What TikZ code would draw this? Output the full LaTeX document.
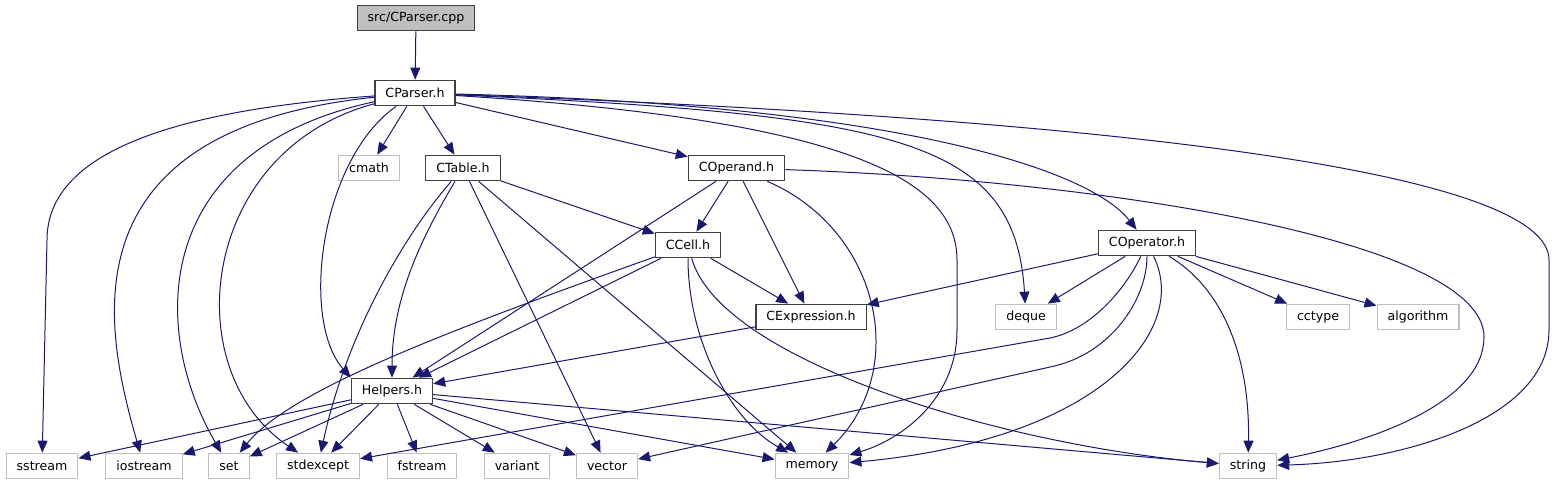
\documentclass[tikz,border=0pt]{standalone}
\usepackage{fontspec}
\setmainfont{DejaVu Sans}
\usetikzlibrary{arrows.meta}
\definecolor{edgeblue}{HTML}{191970}
\definecolor{sysgray}{HTML}{BFBFBF}
\definecolor{boxgray}{HTML}{404040}

\begin{document}
\begin{tikzpicture}[x=1pt,y=-1pt,line width=1pt,>={Triangle[length=12pt,width=10pt]},
  every node/.style={font=\fontsize{12.6}{14}\selectfont,minimum height=25.5pt,inner xsep=10.5pt,inner ysep=0pt},
  hdr/.style={draw=boxgray,fill=white,line width=1.2pt},
  sys/.style={draw=sysgray,fill=white,line width=1.2pt},
  src/.style={draw=boxgray,fill=sysgray,line width=1.2pt},
  dep/.style={->,draw=edgeblue,line width=1pt}]
\useasboundingbox (0,0) rectangle (1555,485);
% ---------- project headers ----------
\node[src] (cpp) at (416,18) {src/CParser.cpp};
\node[hdr] (parser) at (415,93) {CParser.h};
\node[sys] (cmath) at (369,168) {cmath};
\node[hdr] (table) at (463,168) {CTable.h};
\node[hdr] (operand) at (736.5,168) {COperand.h};
\node[hdr] (cell) at (688,245) {CCell.h};
\node[hdr] (operator) at (1147,243) {COperator.h};
\node[hdr] (expr) at (811,317) {CExpression.h};
\node[sys] (deque) at (1026,317) {deque};
\node[sys] (cctype) at (1318,317) {cctype};
\node[sys] (algorithm) at (1418,317) {algorithm};
\node[hdr] (helpers) at (392,391) {Helpers.h};
% ---------- system headers, bottom row ----------
\foreach \n/\x in {sstream/42, iostream/144, set/229, stdexcept/318, fstream/422,
                   variant/517, vector/607, memory/812, string/1248}
  \node[sys] (\n) at (\x,466) {\n};
% ---------- CParser.cpp / CParser.h ----------
\draw[dep] (cpp) -- (parser);
\foreach \t in {cmath, table, operand} \draw[dep] (parser) -- (\t);
\draw[dep] (parser) .. controls (180,110) and (47,150) .. (47,240) -- (sstream);
\draw[dep] (parser) .. controls (60,130) and (105,330) .. (iostream);
\draw[dep] (parser) .. controls (150,150) and (150,330) .. (set);
\draw[dep] (parser) .. controls (200,150) and (175,370) .. (stdexcept);
\draw[dep] (parser) .. controls (320,160) and (300,320) .. (helpers.north west);
\draw[dep] (parser) .. controls (850,120) and (957,180) .. (957,260) -- (957,330)
  .. controls (957,400) and (900,440) .. (memory);
\draw[dep] (parser) .. controls (900,115) and (1015,140) .. (deque);
\draw[dep] (parser) .. controls (900,105) and (1090,170) .. (operator);
\draw[dep] (parser) .. controls (1150,120) and (1549,175) .. (1549,260) -- (1549,330)
  .. controls (1549,420) and (1400,462) .. (string);
% ---------- CTable.h ----------
\draw[dep] (table) -- (cell);
\draw[dep] (table) .. controls (400,240) and (345,340) .. (stdexcept);
\draw[dep] (table) .. controls (420,240) and (392,300) .. (helpers);
\draw[dep] (table) -- (vector);
\draw[dep] (table) -- (memory);
% ---------- COperand.h ----------
\foreach \t in {helpers, cell, expr} \draw[dep] (operand) -- (\t);
\draw[dep] (operand) .. controls (880,230) and (910,370) .. (memory);
\draw[dep] (operand) .. controls (1100,180) and (1484,240) .. (1484,337)
  .. controls (1484,400) and (1380,440) .. (string);
% ---------- CCell.h ----------
\draw[dep] (cell) .. controls (450,330) and (290,390) .. (set);
\draw[dep] (cell) -- (helpers);
\draw[dep] (cell) -- (expr);
\draw[dep] (cell) .. controls (688,340) and (730,420) .. (memory);
\draw[dep] (cell) .. controls (720,360) and (1000,445) .. (string);
% ---------- CExpression.h ----------
\draw[dep] (expr) -- (helpers);
% ---------- COperator.h ----------
\foreach \t in {expr, deque, cctype, algorithm} \draw[dep] (operator) -- (\t);
\draw[dep] (operator) .. controls (1125,290) and (1090,330) .. (1050,338) -- (stdexcept);
\draw[dep] (operator) .. controls (1147,300) and (1110,355) .. (1050,367) -- (vector);
\draw[dep] (operator) .. controls (1190,330) and (1100,440) .. (memory);
\draw[dep] (operator) .. controls (1225,290) and (1250,360) .. (string);
% ---------- Helpers.h ----------
\foreach \t in {sstream, iostream, set, stdexcept, fstream, variant, vector, memory, string}
  \draw[dep] (helpers) -- (\t);
\end{tikzpicture}
\end{document}
